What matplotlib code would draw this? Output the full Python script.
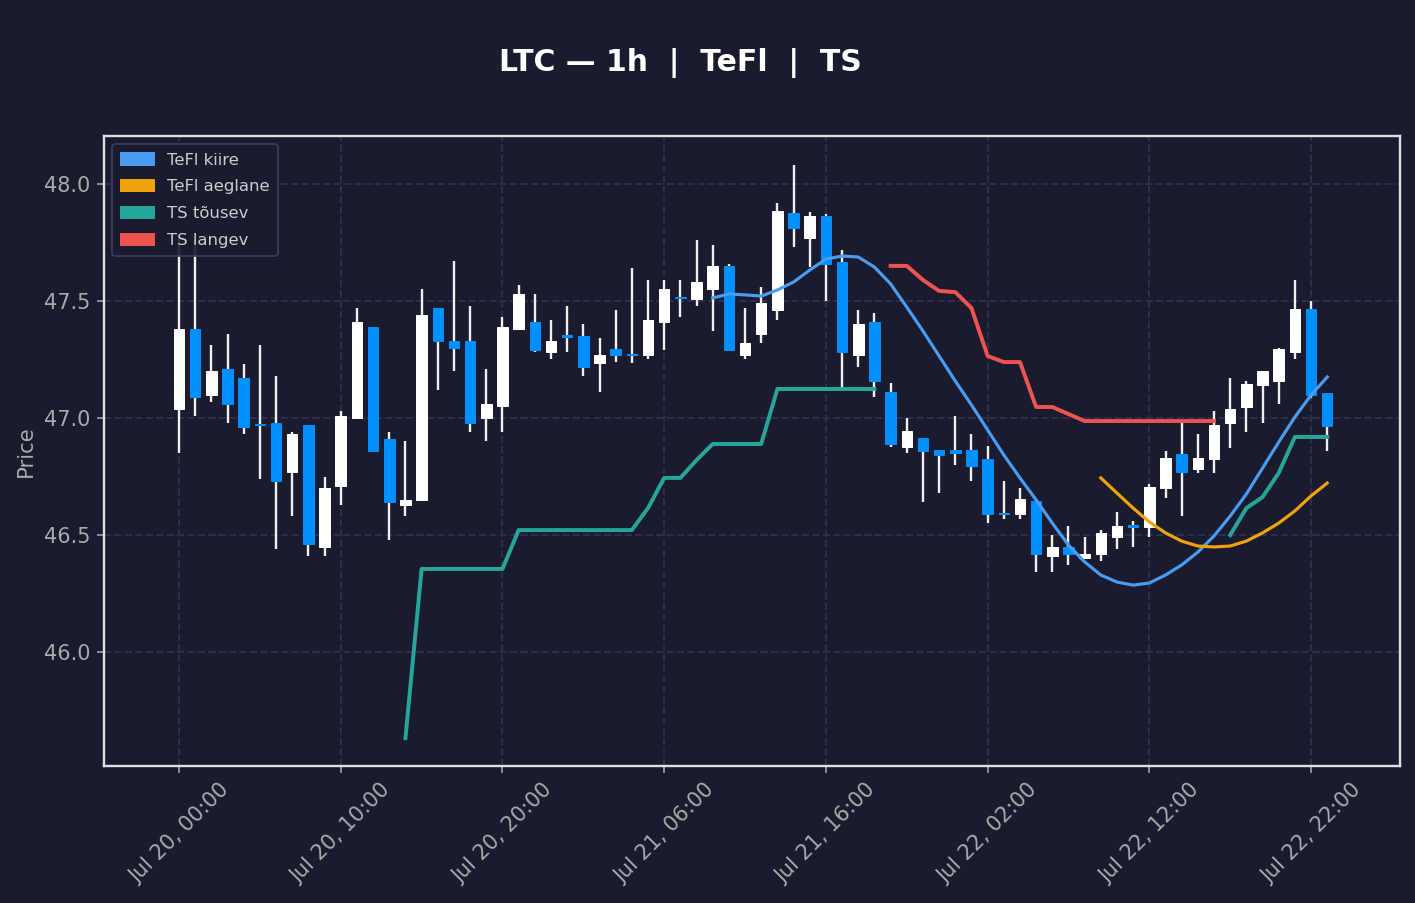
import numpy as np
import pandas as pd
import matplotlib
matplotlib.use("Agg")
import matplotlib.pyplot as plt
import matplotlib.dates as mdates
from matplotlib.patches import Patch

# --- data -----------------------------------------------------------------
times = pd.date_range("2024-07-20 00:00", periods=72, freq="h")

opens = [47.04, 47.38, 47.10, 47.21, 47.17, 46.975, 46.98, 46.77, 46.97, 46.45,
         46.71, 47.00, 47.39, 46.91, 46.63, 46.65, 47.47, 47.33, 47.33, 47.00,
         47.05, 47.38, 47.41, 47.28, 47.352, 47.35, 47.235, 47.295, 47.272, 47.27,
         47.41, 47.515, 47.51, 47.55, 47.65, 47.27, 47.36, 47.46, 47.875, 47.77,
         47.865, 47.665, 47.27, 47.41, 47.11, 46.876, 46.915, 46.863, 46.863, 46.863,
         46.825, 46.592, 46.59, 46.645, 46.41, 46.449, 46.40, 46.42, 46.49, 46.54,
         46.535, 46.70, 46.846, 46.78, 46.825, 46.98, 47.047, 47.14, 47.16, 47.28,
         47.465, 47.107]
highs = [47.78, 47.76, 47.31, 47.36, 47.23, 47.31, 47.18, 46.94, 46.97, 46.75,
         47.03, 47.47, 47.39, 46.94, 46.90, 47.55, 47.47, 47.67, 47.48, 47.21,
         47.43, 47.57, 47.53, 47.42, 47.48, 47.40, 47.34, 47.46, 47.64, 47.59,
         47.59, 47.59, 47.76, 47.74, 47.66, 47.47, 47.56, 47.92, 48.08, 47.88,
         47.87, 47.72, 47.46, 47.45, 47.15, 47.00, 46.915, 46.863, 47.01, 46.93,
         46.88, 46.73, 46.70, 46.65, 46.50, 46.54, 46.49, 46.52, 46.60, 46.56,
         46.72, 46.86, 46.98, 46.93, 47.03, 47.17, 47.16, 47.20, 47.30, 47.59,
         47.50, 47.107]
lows = [46.85, 47.01, 47.07, 46.98, 46.93, 46.74, 46.44, 46.58, 46.41, 46.41,
        46.63, 47.00, 46.86, 46.48, 46.58, 46.65, 47.12, 47.20, 46.94, 46.90,
        46.94, 47.38, 47.28, 47.25, 47.28, 47.18, 47.11, 47.24, 47.235, 47.25,
        47.29, 47.43, 47.48, 47.37, 47.29, 47.25, 47.32, 47.42, 47.73, 47.645,
        47.50, 47.13, 47.22, 47.09, 46.876, 46.85, 46.64, 46.68, 46.80, 46.73,
        46.55, 46.57, 46.57, 46.34, 46.34, 46.37, 46.40, 46.39, 46.44, 46.45,
        46.49, 46.66, 46.58, 46.765, 46.765, 46.87, 46.94, 46.98, 47.06, 47.25,
        47.085, 46.86]
closes = [47.38, 47.09, 47.20, 47.06, 46.96, 46.97, 46.73, 46.93, 46.46, 46.70,
          47.01, 47.41, 46.86, 46.64, 46.65, 47.44, 47.33, 47.30, 46.98, 47.06,
          47.39, 47.53, 47.29, 47.33, 47.348, 47.22, 47.27, 47.27, 47.268, 47.42,
          47.55, 47.511, 47.58, 47.65, 47.29, 47.32, 47.49, 47.885, 47.81, 47.865,
          47.66, 47.28, 47.40, 47.16, 46.89, 46.944, 46.86, 46.84, 46.85, 46.795,
          46.59, 46.588, 46.655, 46.42, 46.45, 46.419, 46.42, 46.51, 46.54, 46.536,
          46.705, 46.83, 46.77, 46.83, 46.97, 47.04, 47.145, 47.20, 47.295, 47.465,
          47.10, 46.966]

N = None
tefl_fast = [N] * 33 + [
    47.513, 47.530, 47.526, 47.521, 47.547, 47.581, 47.632, 47.679, 47.692, 47.688,
    47.645, 47.573, 47.474, 47.372, 47.265, 47.158, 47.056, 46.949, 46.842, 46.744,
    46.650, 46.551, 46.457, 46.385, 46.329, 46.299, 46.286, 46.295, 46.329, 46.372,
    46.427, 46.496, 46.581, 46.675, 46.786, 46.897, 47.004, 47.098, 47.175]
tefl_slow = [N] * 57 + [
    46.744, 46.679, 46.615, 46.556, 46.509, 46.474, 46.453, 46.449, 46.453, 46.474,
    46.509, 46.551, 46.603, 46.667, 46.722]
ts_up = [N] * 14 + [
    45.632, 46.355, 46.355, 46.355, 46.355, 46.355, 46.355, 46.521, 46.521, 46.521,
    46.521, 46.521, 46.521, 46.521, 46.521, 46.615, 46.744, 46.744, 46.820, 46.889,
    46.889, 46.889, 46.889, 47.124, 47.124, 47.124, 47.124, 47.124, 47.124, 47.124,
    ] + [N] * 21 + [46.500, 46.615, 46.662, 46.765, 46.919, 46.919, 46.919]
ts_down = [N] * 44 + [
    47.650, 47.650, 47.590, 47.543, 47.538, 47.470, 47.265, 47.239, 47.239, 47.047,
    47.047, 47.017, 46.987, 46.987, 46.987, 46.987, 46.987, 46.987, 46.987, 46.987,
    46.987] + [N] * 7

# --- style ----------------------------------------------------------------
BG = "#1a1b2e"
UP = "#ffffff"
DOWN = "#0090ff"
C_FAST = "#4a9cf0"
C_SLOW = "#f0a30a"
C_TSU = "#26a69a"
C_TSD = "#ef5350"

fig = plt.figure(figsize=(1415 / 141.5, 903 / 141.5), dpi=141.5, facecolor=BG)
ax = fig.add_axes([104 / 1415, 1 - 766 / 903, 1296 / 1415, 630 / 903], facecolor=BG)

x = mdates.date2num(times.to_pydatetime())
o = np.array(opens); h = np.array(highs); l = np.array(lows); c = np.array(closes)
up = c >= o
cols = np.where(up, UP, DOWN)
body_lo = np.minimum(o, c)
body_h = np.maximum(np.abs(c - o), 0.006)
w = 0.65 / 24

ax.vlines(x, l, h, color="#f0f0f0", linewidth=1.2, zorder=2)
ax.bar(x, body_h, width=w, bottom=body_lo, color=cols, edgecolor=cols,
       linewidth=0.5, zorder=3)

def arr(v):
    return np.array([np.nan if a is None else a for a in v], dtype=float)

ax.plot(x, arr(tefl_fast), color=C_FAST, linewidth=1.6, zorder=4)
ax.plot(x, arr(tefl_slow), color=C_SLOW, linewidth=1.6, zorder=4)
ax.plot(x, arr(ts_up), color=C_TSU, linewidth=2.0, zorder=4)
ax.plot(x, arr(ts_down), color=C_TSD, linewidth=2.0, zorder=4)

hr = 1 / 24
ax.set_xlim(x[0] - 4.64 * hr, x[0] + 75.5 * hr)
ax.set_ylim(45.513, 48.205)

ax.set_xticks(x[::10])
ax.xaxis.set_major_formatter(mdates.DateFormatter("%b %d, %H:%M"))
ax.set_yticks([46.0, 46.5, 47.0, 47.5, 48.0])
ax.yaxis.set_major_formatter(matplotlib.ticker.FormatStrFormatter("%.1f"))
ax.tick_params(axis="x", rotation=45, colors="#aaaaaa", labelsize=10.6)
ax.tick_params(axis="y", colors="#aaaaaa", labelsize=10.6)
ax.grid(True, linestyle="--", color="#2e2e50", linewidth=1.0)
ax.set_axisbelow(True)
for s in ax.spines.values():
    s.set_color("#e0e0e0")
    s.set_linewidth(1.2)
ax.set_ylabel("Price", color="#aaaaaa", fontsize=10.8)

handles = [Patch(color=C_FAST, label="TeFl kiire"),
           Patch(color=C_SLOW, label="TeFl aeglane"),
           Patch(color=C_TSU, label="TS tõusev"),
           Patch(color=C_TSD, label="TS langev")]
leg = ax.legend(handles=handles, loc="upper left", fontsize=8.4,
                labelspacing=0.72, borderpad=0.5,
                facecolor=BG, edgecolor="#3c3c60", framealpha=0.9,
                labelcolor="#cccccc")
leg.set_zorder(10)

fig.suptitle("LTC — 1h  |  TeFl  |  TS", x=680 / 1415, y=1 - 63 / 903,
             va="center", color="white", fontsize=15.2, fontweight="bold")

fig.savefig("out.png", dpi=141.5, facecolor=BG)
